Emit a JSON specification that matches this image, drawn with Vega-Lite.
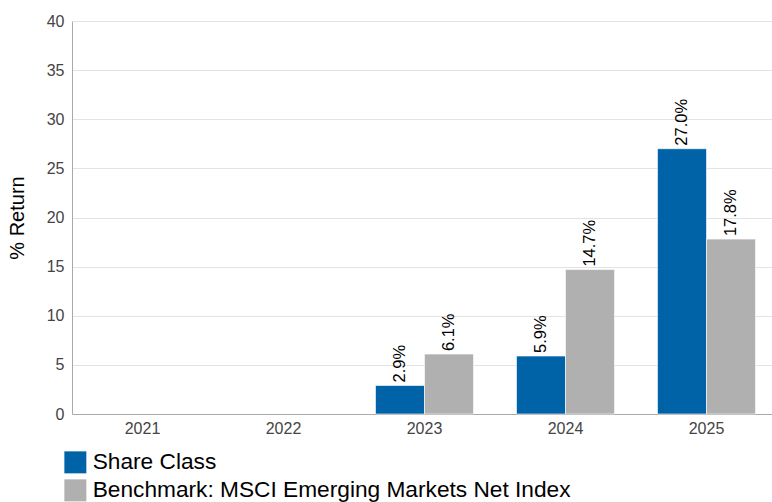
{
  "$schema": "https://vega.github.io/schema/vega-lite/v6.json",
  "autosize": {"type": "none"},
  "width": 705,
  "height": 393,
  "padding": {"left": 72, "top": 21, "right": 0, "bottom": 88},
  "background": "white",
  "config": {
    "font": "Liberation Sans",
    "view": {"stroke": null}
  },
  "data": {
    "values": [
      {"year": "2023", "series": "Share Class", "value": 2.9},
      {"year": "2023", "series": "Benchmark: MSCI Emerging Markets Net Index", "value": 6.1},
      {"year": "2024", "series": "Share Class", "value": 5.9},
      {"year": "2024", "series": "Benchmark: MSCI Emerging Markets Net Index", "value": 14.7},
      {"year": "2025", "series": "Share Class", "value": 27.0},
      {"year": "2025", "series": "Benchmark: MSCI Emerging Markets Net Index", "value": 17.8}
    ]
  },
  "encoding": {
    "x": {
      "field": "year",
      "type": "nominal",
      "scale": {"domain": ["2021", "2022", "2023", "2024", "2025"], "paddingInner": 0.305, "paddingOuter": 0.1525},
      "axis": {
        "title": null,
        "labelAngle": 0,
        "labelFontSize": 16,
        "labelColor": "#444444",
        "labelPadding": 6,
        "ticks": false,
        "domainColor": "#aaaaaa",
        "grid": false
      }
    },
    "xOffset": {
      "field": "series",
      "type": "nominal",
      "sort": ["Share Class", "Benchmark: MSCI Emerging Markets Net Index"],
      "scale": {"paddingInner": 0, "paddingOuter": 0}
    },
    "y": {
      "field": "value",
      "type": "quantitative",
      "scale": {"domain": [0, 40], "nice": false},
      "axis": {
        "title": "% Return",
        "titleFontSize": 20,
        "titleFontWeight": "normal",
        "titleColor": "#000000",
        "titlePadding": 19,
        "values": [0, 5, 10, 15, 20, 25, 30, 35, 40],
        "labelFontSize": 16,
        "labelColor": "#444444",
        "labelPadding": 8,
        "ticks": false,
        "domainColor": "#aaaaaa",
        "gridColor": "#e3e3e3"
      }
    }
  },
  "layer": [
    {
      "mark": {"type": "bar", "stroke": "#ffffff", "strokeWidth": 0.6},
      "encoding": {
        "color": {
          "field": "series",
          "type": "nominal",
          "sort": ["Share Class", "Benchmark: MSCI Emerging Markets Net Index"],
          "scale": {"range": ["#0063A7", "#B0B0B0"]},
          "legend": {
            "title": null,
            "orient": "none",
            "legendX": -8,
            "legendY": 430,
            "padding": 0,
            "symbolType": "square",
            "symbolSize": 484,
            "symbolStrokeWidth": 0,
            "labelFontSize": 22.7,
            "labelColor": "#000000",
            "labelOffset": 6,
            "labelLimit": 700,
            "rowPadding": 4
          }
        }
      }
    },
    {
      "transform": [{"calculate": "format(datum.value, '.1f') + '%'", "as": "label"}],
      "mark": {"type": "text", "angle": 270, "align": "left", "baseline": "middle", "dx": 3, "fontSize": 16.5, "color": "#000000"},
      "encoding": {
        "text": {"field": "label"}
      }
    }
  ]
}
